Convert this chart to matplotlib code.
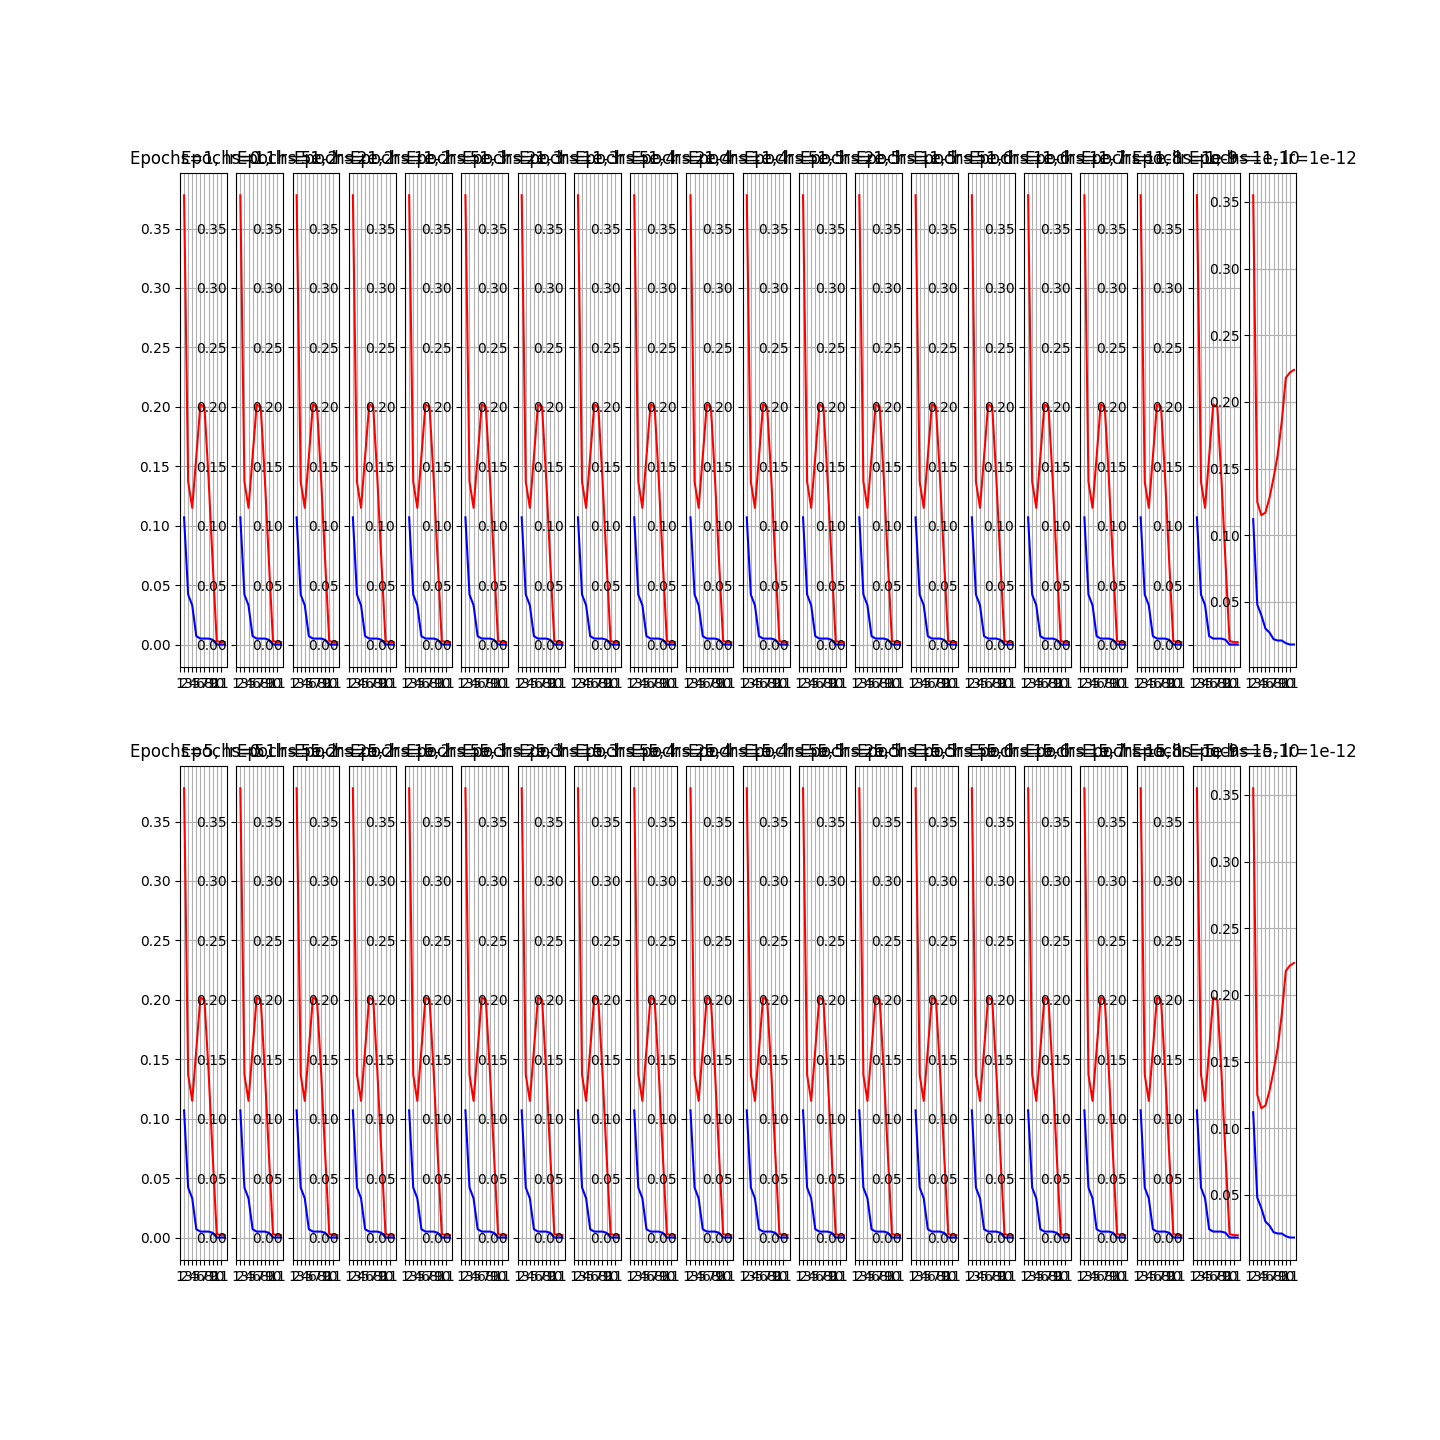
import numpy as np
import matplotlib
matplotlib.use('Agg')
import matplotlib.pyplot as plt

# số epoch trên trục x
epochs = list(range(1, 12))
tick_pos = list(range(0, 11))
tick_labels = list(range(1, 12))

# đường đỏ và đường xanh cho các cột 1-19
red_main = [0.378, 0.137, 0.115, 0.158, 0.202, 0.200, 0.14, 0.07, 0.003, 0.002, 0.002]
blue_main = [0.107, 0.042, 0.033, 0.007, 0.005, 0.005, 0.005, 0.004, 0.0, 0.0, 0.0]

# cột cuối
red_last = [0.355, 0.125, 0.115, 0.117, 0.128, 0.143, 0.160, 0.185, 0.218, 0.222, 0.224]
blue_last = [0.112, 0.048, 0.040, 0.030, 0.027, 0.022, 0.021, 0.021, 0.019, 0.018, 0.018]

row_epochs = [1, 5]
learning_rates = ['0.1', '5e-2', '2e-2', '1e-2', '5e-3', '2e-3', '1e-3', '5e-4', '2e-4', '1e-4',
                  '5e-5', '2e-5', '1e-5', '5e-6', '1e-6', '1e-7', '1e-8', '1e-9', '1e-10', '1e-12']

fig, axes = plt.subplots(2, 20, figsize=(14.4, 14.4))
plt.subplots_adjust(bottom=0.125, hspace=0.2)

for i, ep in enumerate(row_epochs):
    for j, lr in enumerate(learning_rates):
        ax = axes[i, j]
        if j == 19:
            red, blue = red_last, blue_last
        else:
            red, blue = red_main, blue_main
        ax.plot(epochs, red, 'r')
        ax.plot(epochs, blue, 'b')
        ax.set_xticks(tick_pos, tick_labels)
        ax.set_title(f'Epochs={ep}, lr={lr}')
        ax.grid()

plt.savefig('out.png', dpi=100)
